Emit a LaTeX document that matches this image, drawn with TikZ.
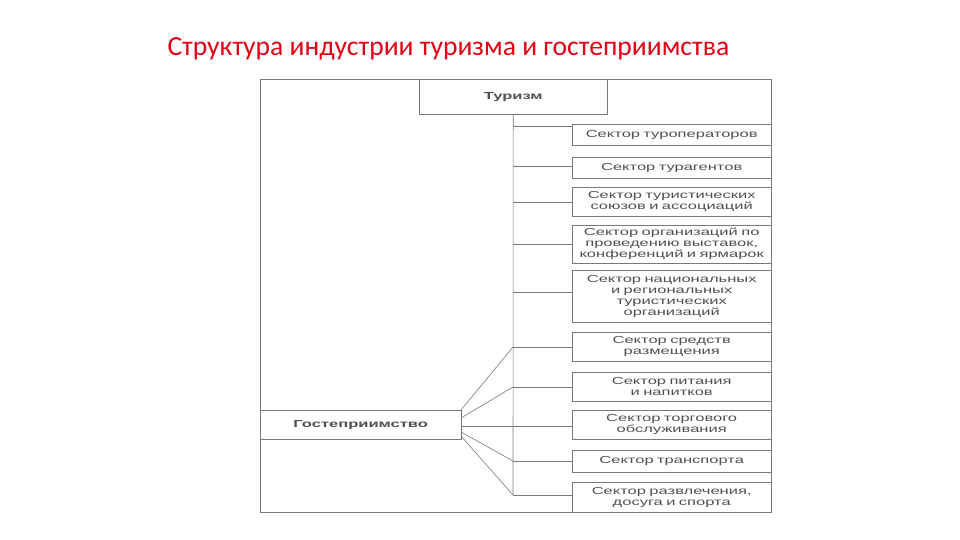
\documentclass[tikz,border=0pt]{standalone}
\usepackage{fontspec}
\setmainfont{Liberation Sans}
\newfontfamily\titlefont{Carlito}
\newfontfamily\boxfont[FakeStretch=1.62]{Liberation Sans}
\usetikzlibrary{positioning}
\definecolor{titlered}{RGB}{225,0,20}
\definecolor{framegray}{RGB}{120,120,120}
\definecolor{textgray}{RGB}{80,80,80}
\tikzset{
  sectorbox/.style={draw=framegray, fill=white, anchor=north west, inner sep=0pt,
    text width=199pt, align=center, text=textgray,
    font=\boxfont\fontsize{10.2}{11}\selectfont},
  mainbox/.style={sectorbox, font=\boxfont\bfseries\fontsize{10.2}{11}\selectfont},
  link/.style={draw=framegray, line width=0.6pt}
}
\begin{document}
\begin{tikzpicture}[x=1pt, y=-1pt]
  \useasboundingbox (0,0) rectangle (960,540);
  \node[anchor=base west, text=titlered, font=\titlefont\fontsize{27.6}{32}\selectfont]
    (title) at (164,56) {Структура индустрии туризма и гостеприимства};
  % frame
  \draw[framegray, line width=0.6pt] (260,79) rectangle (771,512);
  % main boxes
  \node[mainbox, text width=188pt, minimum height=35pt] (tour) at (419,79) {Туризм};
  \node[mainbox, text width=201pt, minimum height=29pt] (gost) at (260,410) {Гостеприимство};
  % sectors
  \node[sectorbox, minimum height=21pt] (s1) at (572,124) {Сектор туроператоров};
  \node[sectorbox, minimum height=21pt] (s2) at (572,157) {Сектор турагентов};
  \node[sectorbox, minimum height=29pt] (s3) at (572,187) {Сектор туристических\\союзов и ассоциаций};
  \node[sectorbox, minimum height=38pt] (s4) at (572,225) {Сектор организаций по\\проведению выставок,\\конференций и ярмарок};
  \node[sectorbox, minimum height=52pt] (s5) at (572,270) {Сектор национальных\\и региональных\\туристических\\организаций};
  \node[sectorbox, minimum height=29pt] (s6) at (572,332) {Сектор средств\\размещения};
  \node[sectorbox, minimum height=29pt] (s7) at (572,372) {Сектор питания\\и напитков};
  \node[sectorbox, minimum height=29pt] (s8) at (572,410) {Сектор торгового\\обслуживания};
  \node[sectorbox, minimum height=22pt] (s9) at (572,450) {Сектор транспорта};
  \node[sectorbox, minimum height=30pt] (s10) at (572,482) {Сектор развлечения,\\досуга и спорта};
  % branch points on the trunk
  \coordinate (b1) at (513,126);
  \coordinate (b2) at (513,166);
  \coordinate (b3) at (513,202);
  \coordinate (b4) at (513,244);
  \coordinate (b5) at (513,292);
  \coordinate (b6) at (513,347);
  \coordinate (b7) at (513,387);
  \coordinate (b8) at (513,426);
  \coordinate (b9) at (513,461);
  \coordinate (b10) at (513,495);
  \draw[link] (tour.south) -- (b10);
  \foreach \i in {1,...,10}
    \draw[link] (b\i) -- (s\i.west |- b\i);
  % fan from hospitality
  \coordinate (g6) at (461,410);
  \coordinate (g7) at (461,418);
  \coordinate (g8) at (461,426);
  \coordinate (g9) at (461,432);
  \coordinate (g10) at (461,436);
  \foreach \i in {6,...,10}
    \draw[link] (g\i) -- (b\i);
\end{tikzpicture}
\end{document}
